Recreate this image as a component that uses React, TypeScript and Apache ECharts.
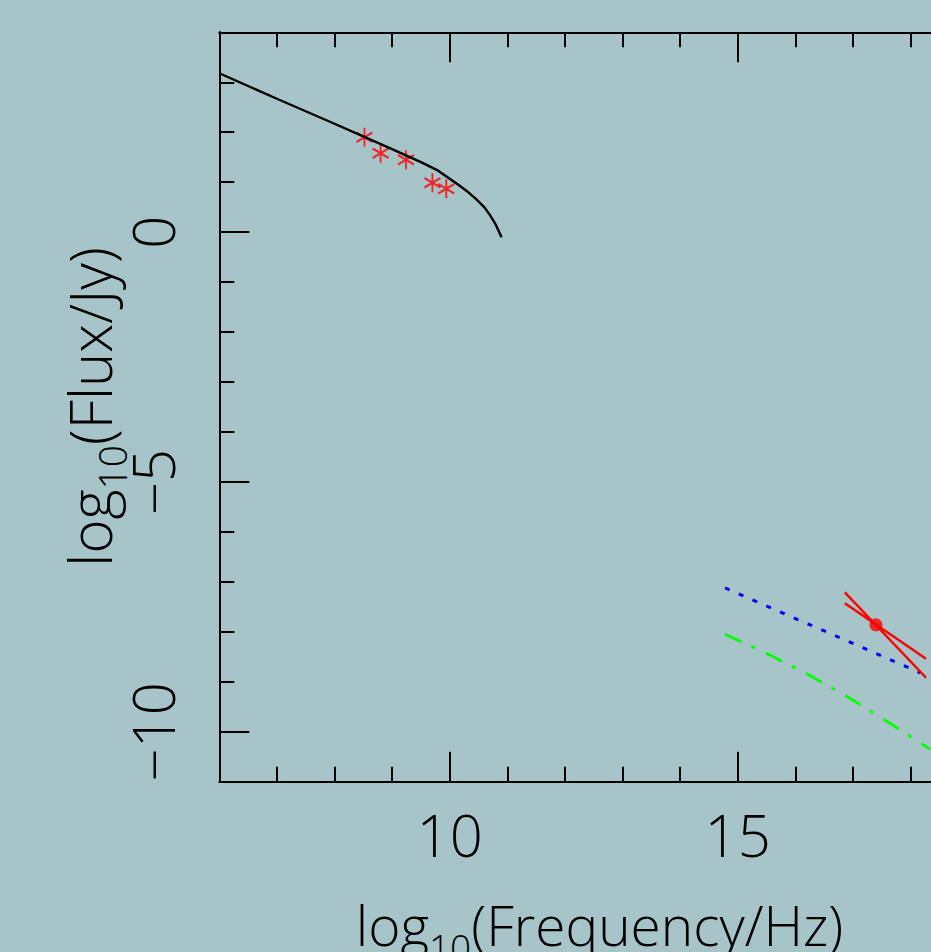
import React, { useEffect, useRef } from "react";
import * as echarts from "echarts";

// ---- data (log10 frequency / log10 flux) ----
const xTickLabels = [10, 15];
const yTickLabels = [-10, -5, 0];
const yMajorTicks = [-10, -5, 0];

// synchrotron model curve (black)
const syncX = [6, 7, 8, 9, 9.5, 9.8, 10.0, 10.15, 10.3, 10.45, 10.6, 10.7, 10.8, 10.9];
const syncY = [3.18, 2.67, 2.17, 1.66, 1.4, 1.23, 1.07, 0.95, 0.82, 0.67, 0.5, 0.34, 0.15, -0.1];

// radio measurements (red asterisks)
const radioX = [8.52, 8.8, 9.24, 9.7, 9.94];
const radioY = [1.9, 1.58, 1.45, 0.99, 0.87];

// blue dotted model
const blueX = [14.78, 18.17];
const blueY = [-7.12, -8.82];

// green dash-dot model
const greenX = [14.78, 15.5, 16.2, 16.89, 17.56, 18.34];
const greenY = [-8.05, -8.43, -8.84, -9.29, -9.77, -10.35];

// X-ray point and bow-tie
const xrayX = [17.4];
const xrayY = [-7.86];
const bowX = [16.86, 18.27];
const bowSteepY = [-7.21, -8.92];
const bowFlatY = [-7.43, -8.54];

const FONT = '"Open Sans", "Liberation Sans", sans-serif';
const STAR = "path://M0,0 L0,20 M-8.66,5 L8.66,15 M-8.66,15 L8.66,5";

const zip = (xs: number[], ys: number[]) => xs.map((x, i) => [x, ys[i]]);
const fmtNum = (v: number) => (v < 0 ? "\u2212" + Math.abs(v) : String(v));

export default function App() {
  const ref = useRef<HTMLDivElement>(null);
  useEffect(() => {
    if (!ref.current) return;
    const chart = echarts.init(ref.current, null, { renderer: "svg" });
    const UNIT = 57.6;
    const LEFT = 219.3;
    const RIGHT = 931 - (LEFT + 14 * UNIT);
    const TOP = 32.3;
    const BOTTOM = 952 - 781.7;
    const lineAx = { show: true, onZero: false, lineStyle: { color: "#000", width: 2 } };
    const noLine = { show: false, onZero: false };
    const xbase = { type: "value", min: 6, max: 20, interval: 1, splitLine: { show: false } };
    const xMajBase = { type: "value", min: 10, max: 20, interval: 5, splitLine: { show: false } };
    const ybase = { type: "value", min: -11, max: 4, interval: 1, splitLine: { show: false } };
    const minorTick = { show: true, inside: true, length: 15, lineStyle: { color: "#000", width: 2 } };
    const majorTick = { show: true, inside: true, length: 30, lineStyle: { color: "#000", width: 2 } };
    const richX = {
      m: { fontFamily: FONT, fontSize: 55, fontWeight: 300, color: "#000", lineHeight: 68, verticalAlign: "top" },
      s: { fontFamily: FONT, fontSize: 37, fontWeight: 300, color: "#000", verticalAlign: "bottom" },
    };
    const richY = {
      m: { fontFamily: FONT, fontSize: 58, fontWeight: 300, color: "#000", lineHeight: 71, verticalAlign: "top" },
      s: { fontFamily: FONT, fontSize: 39, fontWeight: 300, color: "#000", verticalAlign: "bottom" },
    };
    const labelStyle = { fontFamily: FONT, fontSize: 58, fontWeight: 300, color: "#000" };

    chart.setOption({
      animation: false,
      backgroundColor: "#a7c4c8",
      grid: [
        { left: LEFT, top: TOP, right: RIGHT, bottom: BOTTOM, containLabel: false, outerBoundsMode: "none" },
        { left: LEFT + 4 * UNIT, top: TOP, right: RIGHT, bottom: BOTTOM, containLabel: false, outerBoundsMode: "none" },
      ],
      xAxis: [
        {
          ...xbase,
          gridIndex: 0,
          position: "bottom",
          axisLine: lineAx,
          axisTick: minorTick,
          axisLabel: { show: false },
          name: "{m|log}{s|10}{m|(Frequency/Hz)}",
          nameLocation: "middle",
          nameGap: 115,
          nameMoveOverlap: false,
          nameTextStyle: { rich: richX, padding: [0, 46, 0, 0] },
        },
        { ...xbase, gridIndex: 0, position: "top", axisLine: lineAx, axisTick: minorTick, axisLabel: { show: false } },
        {
          ...xMajBase,
          gridIndex: 1,
          position: "bottom",
          axisLine: noLine,
          axisTick: majorTick,
          axisLabel: {
            ...labelStyle,
            margin: 24,
            formatter: (v: number) => (xTickLabels.includes(v) ? fmtNum(v) : ""),
          },
        },
        { ...xMajBase, gridIndex: 1, position: "top", axisLine: noLine, axisTick: majorTick, axisLabel: { show: false } },
      ],
      yAxis: [
        { ...ybase, gridIndex: 0, position: "left", axisLine: lineAx, axisTick: minorTick, axisLabel: { show: false } },
        {
          ...ybase,
          gridIndex: 0,
          position: "left",
          axisLine: lineAx,
          axisTick: { ...majorTick, customValues: yMajorTicks },
          axisLabel: {
            ...labelStyle,
            rotate: 90,
            margin: 38,
            formatter: (v: number) => (yTickLabels.includes(v) ? fmtNum(v) : ""),
          },
          name: "{m|log}{s|10}{m|(Flux/Jy)}",
          nameLocation: "middle",
          nameRotate: 90,
          nameGap: 88,
          nameMoveOverlap: false,
          nameTextStyle: { rich: richY },
        },
        { ...ybase, gridIndex: 1, show: false, axisLine: noLine },
      ],
      series: [
        {
          name: "synchrotron",
          type: "line",
          xAxisIndex: 0,
          yAxisIndex: 0,
          data: zip(syncX, syncY),
          symbol: "none",
          lineStyle: { color: "#000", width: 2.4 },
        },
        {
          name: "radio",
          type: "scatter",
          xAxisIndex: 0,
          yAxisIndex: 0,
          data: zip(radioX, radioY),
          symbol: STAR,
          symbolSize: [16, 19],
          itemStyle: { color: "rgba(0,0,0,0)", borderColor: "#ff0000", borderWidth: 2 },
        },
        {
          name: "model blue",
          type: "line",
          xAxisIndex: 0,
          yAxisIndex: 0,
          data: zip(blueX, blueY),
          symbol: "none",
          lineStyle: { color: "#0000ff", width: 3, type: [5, 10] },
        },
        {
          name: "model green",
          type: "line",
          xAxisIndex: 0,
          yAxisIndex: 0,
          data: zip(greenX, greenY),
          symbol: "none",
          lineStyle: { color: "#00ff00", width: 2.7, type: [18, 11, 4, 12] },
        },
        {
          name: "bowtie steep",
          type: "line",
          xAxisIndex: 0,
          yAxisIndex: 0,
          data: zip(bowX, bowSteepY),
          symbol: "none",
          lineStyle: { color: "#ff0000", width: 2.4 },
        },
        {
          name: "bowtie flat",
          type: "line",
          xAxisIndex: 0,
          yAxisIndex: 0,
          data: zip(bowX, bowFlatY),
          symbol: "none",
          lineStyle: { color: "#ff0000", width: 2.4 },
        },
        {
          name: "X-ray",
          type: "scatter",
          xAxisIndex: 0,
          yAxisIndex: 0,
          data: zip(xrayX, xrayY),
          symbol: "circle",
          symbolSize: 13,
          itemStyle: { color: "#ff0000" },
        },
      ],
    });
    return () => chart.dispose();
  }, []);
  return (
    <div
      ref={ref}
      style={{ position: "fixed", left: 0, top: 0, width: 931, height: 952, background: "#a7c4c8" }}
    />
  );
}
